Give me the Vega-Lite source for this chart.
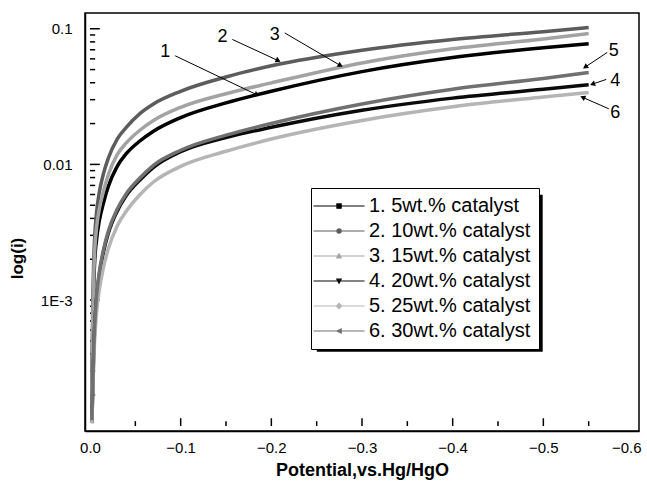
{
  "$schema": "https://vega.github.io/schema/vega-lite/v6.json",
  "width": 554,
  "height": 418,
  "autosize": "none",
  "padding": {"left": 85, "top": 13, "right": 8, "bottom": 55},
  "config": {
    "font": "Liberation Sans",
    "view": {"stroke": "black", "strokeWidth": 1.5},
    "axis": {"domainColor": "black", "domainWidth": 1.5, "labelColor": "black", "titleColor": "black", "labelFont": "Liberation Sans", "titleFont": "Liberation Sans", "grid": false}
  },
  "datasets": {
    "curves": [
      {"s": "1. 5wt.% catalyst", "p": -0.002, "i": 0.000142},
      {"s": "1. 5wt.% catalyst", "p": -0.003, "i": 0.000579},
      {"s": "1. 5wt.% catalyst", "p": -0.004, "i": 0.00122},
      {"s": "1. 5wt.% catalyst", "p": -0.005, "i": 0.001845},
      {"s": "1. 5wt.% catalyst", "p": -0.0075, "i": 0.00289},
      {"s": "1. 5wt.% catalyst", "p": -0.01, "i": 0.00376},
      {"s": "1. 5wt.% catalyst", "p": -0.015, "i": 0.00524},
      {"s": "1. 5wt.% catalyst", "p": -0.02, "i": 0.00683},
      {"s": "1. 5wt.% catalyst", "p": -0.03, "i": 0.00967},
      {"s": "1. 5wt.% catalyst", "p": -0.04, "i": 0.0120},
      {"s": "1. 5wt.% catalyst", "p": -0.055, "i": 0.01488},
      {"s": "1. 5wt.% catalyst", "p": -0.07, "i": 0.01757},
      {"s": "1. 5wt.% catalyst", "p": -0.1, "i": 0.02215},
      {"s": "1. 5wt.% catalyst", "p": -0.15, "i": 0.0284},
      {"s": "1. 5wt.% catalyst", "p": -0.2, "i": 0.0346},
      {"s": "1. 5wt.% catalyst", "p": -0.3, "i": 0.0483},
      {"s": "1. 5wt.% catalyst", "p": -0.4, "i": 0.0613},
      {"s": "1. 5wt.% catalyst", "p": -0.5, "i": 0.0724},
      {"s": "1. 5wt.% catalyst", "p": -0.55, "i": 0.0776},
      {"s": "2. 10wt.% catalyst", "p": -0.002, "i": 0.000197},
      {"s": "2. 10wt.% catalyst", "p": -0.003, "i": 0.000876},
      {"s": "2. 10wt.% catalyst", "p": -0.004, "i": 0.001845},
      {"s": "2. 10wt.% catalyst", "p": -0.005, "i": 0.00279},
      {"s": "2. 10wt.% catalyst", "p": -0.0075, "i": 0.00459},
      {"s": "2. 10wt.% catalyst", "p": -0.01, "i": 0.00608},
      {"s": "2. 10wt.% catalyst", "p": -0.015, "i": 0.00862},
      {"s": "2. 10wt.% catalyst", "p": -0.02, "i": 0.01104},
      {"s": "2. 10wt.% catalyst", "p": -0.03, "i": 0.01538},
      {"s": "2. 10wt.% catalyst", "p": -0.04, "i": 0.01877},
      {"s": "2. 10wt.% catalyst", "p": -0.055, "i": 0.0237},
      {"s": "2. 10wt.% catalyst", "p": -0.07, "i": 0.0279},
      {"s": "2. 10wt.% catalyst", "p": -0.1, "i": 0.0346},
      {"s": "2. 10wt.% catalyst", "p": -0.15, "i": 0.0441},
      {"s": "2. 10wt.% catalyst", "p": -0.2, "i": 0.0533},
      {"s": "2. 10wt.% catalyst", "p": -0.3, "i": 0.0695},
      {"s": "2. 10wt.% catalyst", "p": -0.4, "i": 0.0834},
      {"s": "2. 10wt.% catalyst", "p": -0.5, "i": 0.0952},
      {"s": "2. 10wt.% catalyst", "p": -0.55, "i": 0.1022},
      {"s": "3. 15wt.% catalyst", "p": -0.002, "i": 0.000167},
      {"s": "3. 15wt.% catalyst", "p": -0.003, "i": 0.000683},
      {"s": "3. 15wt.% catalyst", "p": -0.004, "i": 0.00144},
      {"s": "3. 15wt.% catalyst", "p": -0.005, "i": 0.00218},
      {"s": "3. 15wt.% catalyst", "p": -0.0075, "i": 0.00352},
      {"s": "3. 15wt.% catalyst", "p": -0.01, "i": 0.00459},
      {"s": "3. 15wt.% catalyst", "p": -0.015, "i": 0.00639},
      {"s": "3. 15wt.% catalyst", "p": -0.02, "i": 0.00833},
      {"s": "3. 15wt.% catalyst", "p": -0.03, "i": 0.0118},
      {"s": "3. 15wt.% catalyst", "p": -0.04, "i": 0.01439},
      {"s": "3. 15wt.% catalyst", "p": -0.055, "i": 0.01786},
      {"s": "3. 15wt.% catalyst", "p": -0.07, "i": 0.02107},
      {"s": "3. 15wt.% catalyst", "p": -0.1, "i": 0.02636},
      {"s": "3. 15wt.% catalyst", "p": -0.15, "i": 0.0332},
      {"s": "3. 15wt.% catalyst", "p": -0.2, "i": 0.0399},
      {"s": "3. 15wt.% catalyst", "p": -0.3, "i": 0.0560},
      {"s": "3. 15wt.% catalyst", "p": -0.4, "i": 0.0712},
      {"s": "3. 15wt.% catalyst", "p": -0.5, "i": 0.0840},
      {"s": "3. 15wt.% catalyst", "p": -0.55, "i": 0.0921},
      {"s": "4. 20wt.% catalyst", "p": -0.002, "i": 0.000124},
      {"s": "4. 20wt.% catalyst", "p": -0.003, "i": 0.000214},
      {"s": "4. 20wt.% catalyst", "p": -0.004, "i": 0.000395},
      {"s": "4. 20wt.% catalyst", "p": -0.005, "i": 0.000598},
      {"s": "4. 20wt.% catalyst", "p": -0.0075, "i": 0.001068},
      {"s": "4. 20wt.% catalyst", "p": -0.01, "i": 0.001488},
      {"s": "4. 20wt.% catalyst", "p": -0.015, "i": 0.00229},
      {"s": "4. 20wt.% catalyst", "p": -0.02, "i": 0.00308},
      {"s": "4. 20wt.% catalyst", "p": -0.03, "i": 0.00452},
      {"s": "4. 20wt.% catalyst", "p": -0.04, "i": 0.00589},
      {"s": "4. 20wt.% catalyst", "p": -0.055, "i": 0.00767},
      {"s": "4. 20wt.% catalyst", "p": -0.07, "i": 0.00951},
      {"s": "4. 20wt.% catalyst", "p": -0.1, "i": 0.01240},
      {"s": "4. 20wt.% catalyst", "p": -0.15, "i": 0.01577},
      {"s": "4. 20wt.% catalyst", "p": -0.2, "i": 0.01877},
      {"s": "4. 20wt.% catalyst", "p": -0.3, "i": 0.02508},
      {"s": "4. 20wt.% catalyst", "p": -0.4, "i": 0.0308},
      {"s": "4. 20wt.% catalyst", "p": -0.5, "i": 0.0358},
      {"s": "4. 20wt.% catalyst", "p": -0.55, "i": 0.0387},
      {"s": "5. 25wt.% catalyst", "p": -0.002, "i": 0.000124},
      {"s": "5. 25wt.% catalyst", "p": -0.003, "i": 0.000197},
      {"s": "5. 25wt.% catalyst", "p": -0.004, "i": 0.000335},
      {"s": "5. 25wt.% catalyst", "p": -0.005, "i": 0.00049},
      {"s": "5. 25wt.% catalyst", "p": -0.0075, "i": 0.000848},
      {"s": "5. 25wt.% catalyst", "p": -0.01, "i": 0.001161},
      {"s": "5. 25wt.% catalyst", "p": -0.015, "i": 0.001757},
      {"s": "5. 25wt.% catalyst", "p": -0.02, "i": 0.002366},
      {"s": "5. 25wt.% catalyst", "p": -0.03, "i": 0.00352},
      {"s": "5. 25wt.% catalyst", "p": -0.04, "i": 0.00452},
      {"s": "5. 25wt.% catalyst", "p": -0.055, "i": 0.00598},
      {"s": "5. 25wt.% catalyst", "p": -0.07, "i": 0.00742},
      {"s": "5. 25wt.% catalyst", "p": -0.1, "i": 0.00967},
      {"s": "5. 25wt.% catalyst", "p": -0.15, "i": 0.01250},
      {"s": "5. 25wt.% catalyst", "p": -0.2, "i": 0.01538},
      {"s": "5. 25wt.% catalyst", "p": -0.3, "i": 0.02107},
      {"s": "5. 25wt.% catalyst", "p": -0.4, "i": 0.0266},
      {"s": "5. 25wt.% catalyst", "p": -0.5, "i": 0.0314},
      {"s": "5. 25wt.% catalyst", "p": -0.55, "i": 0.0339},
      {"s": "6. 30wt.% catalyst", "p": -0.002, "i": 0.0001303},
      {"s": "6. 30wt.% catalyst", "p": -0.003, "i": 0.000233},
      {"s": "6. 30wt.% catalyst", "p": -0.004, "i": 0.000416},
      {"s": "6. 30wt.% catalyst", "p": -0.005, "i": 0.000629},
      {"s": "6. 30wt.% catalyst", "p": -0.0075, "i": 0.001123},
      {"s": "6. 30wt.% catalyst", "p": -0.01, "i": 0.001564},
      {"s": "6. 30wt.% catalyst", "p": -0.015, "i": 0.002366},
      {"s": "6. 30wt.% catalyst", "p": -0.02, "i": 0.00319},
      {"s": "6. 30wt.% catalyst", "p": -0.03, "i": 0.00467},
      {"s": "6. 30wt.% catalyst", "p": -0.04, "i": 0.00608},
      {"s": "6. 30wt.% catalyst", "p": -0.055, "i": 0.00793},
      {"s": "6. 30wt.% catalyst", "p": -0.07, "i": 0.00984},
      {"s": "6. 30wt.% catalyst", "p": -0.1, "i": 0.01271},
      {"s": "6. 30wt.% catalyst", "p": -0.15, "i": 0.01643},
      {"s": "6. 30wt.% catalyst", "p": -0.2, "i": 0.02005},
      {"s": "6. 30wt.% catalyst", "p": -0.3, "i": 0.0279},
      {"s": "6. 30wt.% catalyst", "p": -0.4, "i": 0.0358},
      {"s": "6. 30wt.% catalyst", "p": -0.5, "i": 0.0430},
      {"s": "6. 30wt.% catalyst", "p": -0.55, "i": 0.0475}
    ],
    "labels": [
      {"t": "1", "p": -0.0831, "i": 0.0669},
      {"t": "2", "p": -0.1462, "i": 0.0866},
      {"t": "3", "p": -0.2039, "i": 0.0905},
      {"t": "5", "p": -0.5776, "i": 0.0687},
      {"t": "4", "p": -0.5794, "i": 0.0414},
      {"t": "6", "p": -0.5794, "i": 0.02405}
    ],
    "arrows": [
      {"p": -0.0939, "i": 0.0632, "p2": -0.1841, "i2": 0.0326, "a": 25.6},
      {"p": -0.157, "i": 0.0834, "p2": -0.2076, "i2": 0.0582, "a": 24.9},
      {"p": -0.2148, "i": 0.0931, "p2": -0.2762, "i2": 0.0536, "a": 30.5},
      {"p": -0.5705, "i": 0.0669, "p2": -0.5462, "i2": 0.0522, "a": 146.2},
      {"p": -0.5694, "i": 0.0423, "p2": -0.5542, "i2": 0.0391, "a": 161.4},
      {"p": -0.5722, "i": 0.0257, "p2": -0.5434, "i2": 0.0312, "a": 203.7}
    ],
    "xmaj": [{"v": -0.1}, {"v": -0.2}, {"v": -0.3}, {"v": -0.4}, {"v": -0.5}],
    "xmin": [{"v": -0.05}, {"v": -0.15}, {"v": -0.25}, {"v": -0.35}, {"v": -0.45}, {"v": -0.55}],
    "ymaj": [{"v": 0.001}, {"v": 0.01}, {"v": 0.1}],
    "ymin": [{"v": 0.0002}, {"v": 0.0003}, {"v": 0.0004}, {"v": 0.0005}, {"v": 0.0006}, {"v": 0.0007}, {"v": 0.0008}, {"v": 0.0009}, {"v": 0.002}, {"v": 0.003}, {"v": 0.004}, {"v": 0.005}, {"v": 0.006}, {"v": 0.007}, {"v": 0.008}, {"v": 0.009}, {"v": 0.02}, {"v": 0.03}, {"v": 0.04}, {"v": 0.05}, {"v": 0.06}, {"v": 0.07}, {"v": 0.08}, {"v": 0.09}]
  },
  "layer": [
    {
      "data": {"values": [{}]},
      "mark": {"type": "rect", "fill": "black"},
      "encoding": {
        "x": {"datum": -0.2502, "type": "quantitative"},
        "x2": {"datum": -0.4993},
        "y": {"datum": 0.000416, "type": "quantitative"},
        "y2": {"datum": 0.00598}
      }
    },
    {
      "data": {"name": "xmaj"},
      "mark": {"type": "bar", "color": "black", "width": 1.5, "opacity": 1},
      "encoding": {
        "x": {"field": "v", "type": "quantitative"},
        "y": {"datum": 0.000118, "type": "quantitative"},
        "y2": {"datum": 0.0001347}
      }
    },
    {
      "data": {"name": "xmin"},
      "mark": {"type": "bar", "color": "black", "width": 1.5, "opacity": 1},
      "encoding": {
        "x": {"field": "v", "type": "quantitative"},
        "y": {"datum": 0.000118, "type": "quantitative"},
        "y2": {"datum": 0.0001281}
      }
    },
    {
      "data": {"name": "ymaj"},
      "mark": {"type": "bar", "color": "black", "height": 1.5, "opacity": 1},
      "encoding": {
        "y": {"field": "v", "type": "quantitative"},
        "x": {"datum": 0, "type": "quantitative"},
        "x2": {"datum": -0.0108}
      }
    },
    {
      "data": {"name": "ymin"},
      "mark": {"type": "bar", "color": "black", "height": 1.5, "opacity": 1},
      "encoding": {
        "y": {"field": "v", "type": "quantitative"},
        "x": {"datum": 0, "type": "quantitative"},
        "x2": {"datum": -0.0057}
      }
    },
    {
      "data": {"name": "curves"},
      "mark": {"type": "line", "strokeWidth": 3.5, "interpolate": "monotone"},
      "encoding": {
        "x": {
          "field": "p", "type": "quantitative",
          "scale": {"domain": [0, -0.6], "nice": false, "zero": false},
          "axis": {
            "orient": "bottom",
            "title": "Potential,vs.Hg/HgO",
            "titleFontSize": 18, "titleFontWeight": "bold", "titlePadding": 6,
            "labelFontSize": 15, "labelPadding": 9, "labelFlush": false, "labelOverlap": false,
            "values": [0, -0.1, -0.2, -0.3, -0.4, -0.5, -0.6],
            "format": ".1f",
            "labelAlign": {"condition": {"test": "datum.value < -0.59", "value": "right"}, "value": "center"},
            "labelOffset": {"condition": {"test": "datum.value < -0.59", "value": 7}, "value": 0},
            "ticks": false
          }
        },
        "y": {
          "field": "i", "type": "quantitative",
          "scale": {"type": "log", "domain": [0.000118, 0.12], "nice": false},
          "axis": {
            "orient": "left",
            "title": "log(i)",
            "titleFontSize": 17, "titleFontWeight": "bold", "titlePadding": 14, "titleY": 245,
            "labelFontSize": 15, "labelPadding": 13, "labelOverlap": false, "labelFlush": false,
            "values": [0.001, 0.01, 0.1],
            "labelExpr": "datum.value == 0.1 ? '0.1' : datum.value == 0.01 ? '0.01' : '1E-3'",
            "ticks": false
          }
        },
        "color": {
          "field": "s", "type": "nominal",
          "scale": {
            "domain": ["1. 5wt.% catalyst", "2. 10wt.% catalyst", "3. 15wt.% catalyst", "4. 20wt.% catalyst", "5. 25wt.% catalyst", "6. 30wt.% catalyst"],
            "range": ["#000000", "#5c5c5c", "#a3a3a3", "#0a0a0a", "#b5b5b5", "#707070"]
          },
          "legend": {
            "title": null, "orient": "none", "legendX": 226, "legendY": 175, "direction": "vertical",
            "strokeColor": "black", "fillColor": "white", "padding": 8,
            "labelFontSize": 20, "labelFont": "Liberation Sans", "labelColor": "black", "labelLimit": 0,
            "symbolSize": 289, "labelOffset": 30, "rowPadding": 5,
            "encode": {"symbols": {"update": {"stroke": {"scale": "color", "field": "value"}, "fill": {"scale": "color", "field": "value"}, "strokeWidth": {"value": 1.2}}}}
          }
        }
      }
    },
    {
      "data": {"name": "curves"},
      "transform": [{"filter": "false"}],
      "mark": {"type": "point", "filled": true},
      "encoding": {
        "x": {"field": "p", "type": "quantitative"},
        "y": {"field": "i", "type": "quantitative"},
        "color": {"field": "s", "type": "nominal"},
        "shape": {
          "field": "s", "type": "nominal",
          "scale": {
            "domain": ["1. 5wt.% catalyst", "2. 10wt.% catalyst", "3. 15wt.% catalyst", "4. 20wt.% catalyst", "5. 25wt.% catalyst", "6. 30wt.% catalyst"],
            "range": [
              "M-1.82,0H4.18M0.93,-0.25H1.43V0.25H0.93Z",
              "M-1.82,0H4.18M0.93,0A0.25,0.25 0 1 0 1.43,0A0.25,0.25 0 1 0 0.93,0Z",
              "M-1.82,0H4.18M0.93,0.22L1.18,-0.26L1.43,0.22Z",
              "M-1.82,0H4.18M0.93,-0.22L1.18,0.26L1.43,-0.22Z",
              "M-1.82,0H4.18M0.88,0L1.18,-0.3L1.48,0L1.18,0.3Z",
              "M-1.82,0H4.18M0.93,0L1.43,-0.25L1.43,0.25Z"
            ]
          }
        }
      }
    },
    {
      "data": {"name": "arrows"},
      "mark": {"type": "rule", "color": "black", "strokeWidth": 1},
      "encoding": {
        "x": {"field": "p", "type": "quantitative"},
        "y": {"field": "i", "type": "quantitative"},
        "x2": {"field": "p2"},
        "y2": {"field": "i2"}
      }
    },
    {
      "data": {"name": "arrows"},
      "mark": {"type": "point", "shape": "triangle-right", "filled": true, "color": "black", "size": 35, "opacity": 1},
      "encoding": {
        "x": {"field": "p2", "type": "quantitative"},
        "y": {"field": "i2", "type": "quantitative"},
        "angle": {"field": "a", "type": "quantitative", "scale": null}
      }
    },
    {
      "data": {"name": "labels"},
      "mark": {"type": "text", "fontSize": 18, "color": "black", "font": "Liberation Sans", "align": "center", "baseline": "middle"},
      "encoding": {
        "x": {"field": "p", "type": "quantitative"},
        "y": {"field": "i", "type": "quantitative"},
        "text": {"field": "t"}
      }
    }
  ]
}
